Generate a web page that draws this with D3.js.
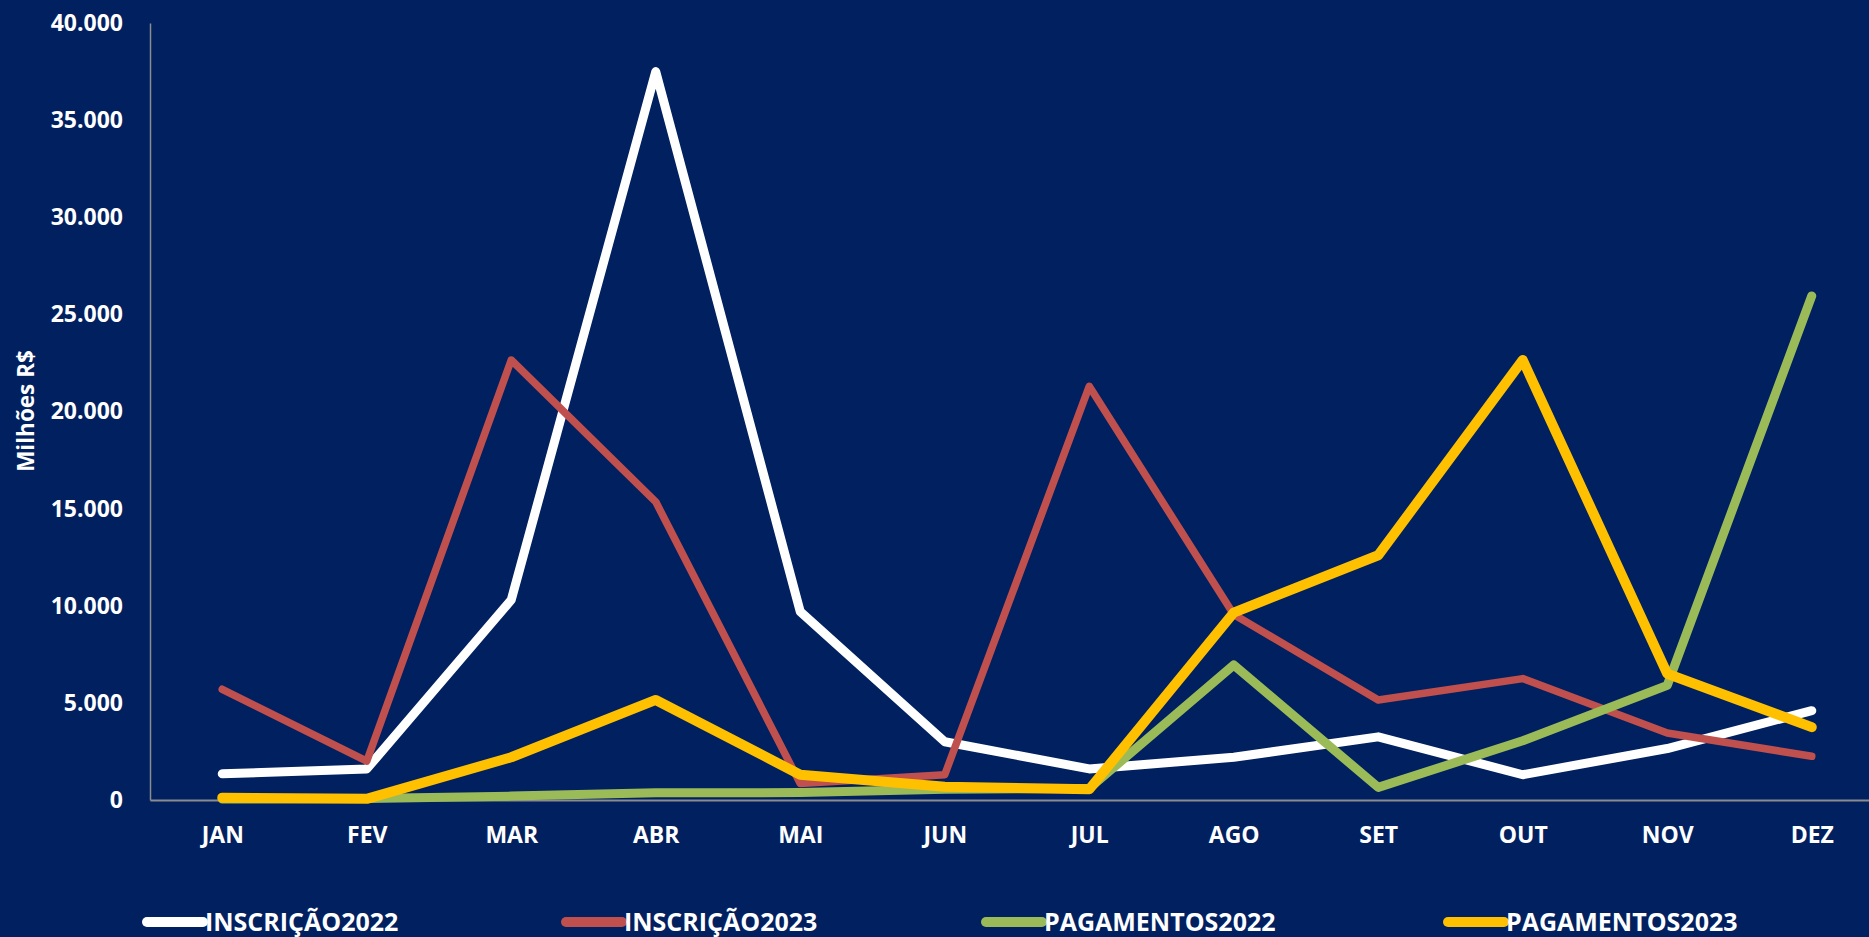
<!DOCTYPE html>
<html>
<head>
<meta charset="utf-8">
<script src="https://cdn.jsdelivr.net/npm/d3@7"></script>
<style>
  html, body { margin: 0; padding: 0; background: #002060; }
  svg { display: block; }
  text { font-family: "Open Sans", "Noto Sans", sans-serif; font-weight: 700; fill: #ffffff; }
</style>
</head>
<body>
<script>
const months = ["JAN","FEV","MAR","ABR","MAI","JUN","JUL","AGO","SET","OUT","NOV","DEZ"];
const inscricao2022 = [1350, 1600, 10300, 37500, 9700, 3000, 1600, 2200, 3250, 1300, 2650, 4600];
const inscricao2023 = [5700, 2000, 22650, 15350, 850, 1300, 21300, 9550, 5150, 6250, 3450, 2250];
const pagamentos2022 = [50, 80, 200, 370, 380, 550, 600, 6950, 650, 3050, 5900, 25950];
const pagamentos2023 = [120, 60, 2200, 5150, 1300, 680, 550, 9650, 12600, 22650, 6500, 3750];
const yTicks = [0, 5000, 10000, 15000, 20000, 25000, 30000, 35000, 40000];
const seriesNames = ["INSCRIÇÃO2022", "INSCRIÇÃO2023", "PAGAMENTOS2022", "PAGAMENTOS2023"];
const seriesColors = ["#ffffff", "#C0504D", "#9BBB59", "#FFC000"];
const seriesWidths = [9, 7.5, 9, 10];
const seriesData = [inscricao2022, inscricao2023, pagamentos2022, pagamentos2023];

const W = 1869, H = 937;
const svg = d3.select("body").append("svg").attr("width", W).attr("height", H);
svg.append("rect").attr("width", W).attr("height", H).attr("fill", "#002060");

const x = d3.scalePoint().domain(months).range([150, 1884]).padding(0.5);
const y = d3.scaleLinear().domain([0, 40000]).range([800, 23]);

const fmt = d => d3.format(",")(d).replace(/,/g, ".");

// y axis
const yAxis = svg.append("g").attr("transform", "translate(150,0)")
  .call(d3.axisLeft(y).tickValues(yTicks).tickSize(0).tickPadding(27).tickFormat(fmt));
yAxis.select(".domain").attr("stroke", "#8c8c8c").attr("stroke-width", 1.5);
yAxis.selectAll("text").attr("font-size", 23).attr("fill", "#fff")
  .style("font-family", "'Open Sans', sans-serif").style("font-weight", 700);

// x axis
const xAxis = svg.append("g").attr("transform", "translate(0,800)")
  .call(d3.axisBottom(x).tickSize(0).tickPadding(27));
xAxis.select(".domain").attr("stroke", "#8c8c8c").attr("stroke-width", 2);
xAxis.selectAll("text").attr("font-size", 23).attr("fill", "#fff")
  .style("font-family", "'Open Sans', sans-serif").style("font-weight", 700);

// y title
svg.append("text")
  .attr("transform", "translate(34,411) rotate(-90)")
  .attr("text-anchor", "middle")
  .attr("font-size", 22.5)
  .text("Milhões R$");

// lines
const line = d3.line().x((d, i) => x(months[i])).y(d => y(d));
seriesData.forEach((s, k) => {
  svg.append("path")
    .datum(s)
    .attr("d", line)
    .attr("fill", "none")
    .attr("stroke", seriesColors[k])
    .attr("stroke-width", seriesWidths[k])
    .attr("stroke-linecap", "round")
    .attr("stroke-linejoin", "round");
});

// legend
const legendX = [147, 566, 986, 1448];
const lg = svg.append("g");
seriesNames.forEach((n, k) => {
  const g = lg.append("g").attr("transform", `translate(${legendX[k]},922)`);
  g.append("line").attr("x1", 0).attr("x2", 56).attr("y1", 0).attr("y2", 0)
    .attr("stroke", seriesColors[k]).attr("stroke-width", 10).attr("stroke-linecap", "round");
  g.append("text").attr("x", 58).attr("y", 0).attr("dy", "0.36em")
    .attr("font-size", 25).text(n);
});
</script>
</body>
</html>
